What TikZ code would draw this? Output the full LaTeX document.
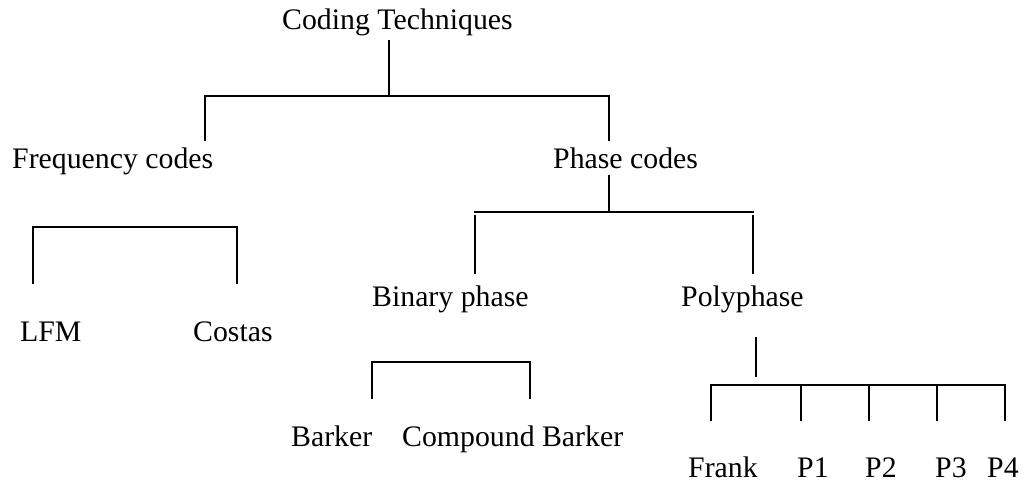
\documentclass[tikz,border=0pt]{standalone}
\usepackage{fontspec}
\setmainfont{Liberation Serif}
\begin{document}
\begin{tikzpicture}[x=1pt,y=-1pt,
  lbl/.style={anchor=base west,inner sep=0pt,font=\fontsize{29.8}{34}\selectfont},
  ln/.style={line width=1.7pt,line cap=rect}]
\useasboundingbox (0,0) rectangle (1025,484);
% labels
\node[lbl] (root) at (282,30) {Coding Techniques};
\node[lbl] (freq) at (12,168) {Frequency codes};
\node[lbl] (phase) at (553,168) {Phase codes};
\node[lbl] (lfm) at (20,341) {LFM};
\node[lbl] (costas) at (193,341) {Costas};
\node[lbl] (binary) at (372,306) {Binary phase};
\node[lbl] (poly) at (681,306) {Polyphase};
\node[lbl] (barker) at (291,446) {Barker};
\node[lbl] (cbarker) at (402,446) {Compound Barker};
\node[lbl] (frank) at (688,477) {Frank};
\node[lbl] (p1) at (797,477) {P1};
\node[lbl] (p2) at (865,477) {P2};
\node[lbl] (p3) at (935,477) {P3};
\node[lbl] (p4) at (987,477) {P4};
% root bracket
\coordinate (r0) at (389,41);
\coordinate (r1) at (389,96);
\coordinate (rl) at (205,96);
\coordinate (rr) at (609,96);
\coordinate (rlb) at (205,140);
\coordinate (rrb) at (609,140);
\draw[ln] (r0) -- (r1);
\draw[ln] (rlb) -- (rl) -- (rr) -- (rrb);
% frequency bracket
\coordinate (fl) at (33,227);
\coordinate (fr) at (237,227);
\coordinate (flb) at (33,283);
\coordinate (frb) at (237,283);
\draw[ln] (flb) -- (fl) -- (fr) -- (frb);
% phase bracket
\coordinate (ph0) at (609,176);
\coordinate (ph1) at (609,212);
\coordinate (phl) at (475,212);
\coordinate (phr) at (753,212);
\coordinate (phlt) at (475,216);
\coordinate (phrt) at (753,216);
\coordinate (phlb) at (475,273);
\coordinate (phrb) at (753,273);
\draw[ln] (ph0) -- (ph1);
\draw[ln] (phl) -- (phr);
\draw[ln] (phlt) -- (phlb);
\draw[ln] (phrt) -- (phrb);
% binary bracket
\coordinate (bl) at (372,362);
\coordinate (br) at (530,362);
\coordinate (blb) at (372,398);
\coordinate (brb) at (530,398);
\draw[ln] (blb) -- (bl) -- (br) -- (brb);
% polyphase bracket
\coordinate (po0) at (756,338);
\coordinate (po1) at (756,376);
\draw[ln] (po0) -- (po1);
\coordinate (pl) at (711,385);
\coordinate (pr) at (1005,385);
\draw[ln] (pl) -- (pr);
\foreach \x/\n in {711/a,801/b,869/c,937/d,1005/e}{
  \coordinate (pt\n) at (\x,385);
  \coordinate (pb\n) at (\x,420);
  \draw[ln] (pt\n) -- (pb\n);
}
\end{tikzpicture}
\end{document}
